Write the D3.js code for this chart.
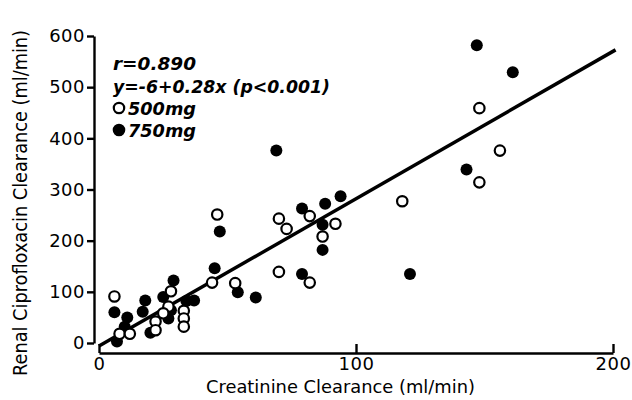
<!DOCTYPE html>
<html lang="en">
<head>
    <meta charset="UTF-8">
    <title>Renal ciprofloxacin clearance</title>
    <script src="https://cdn.jsdelivr.net/npm/d3@7/dist/d3.min.js"></script>
</head>
<body style="margin:0; background:#fff;">
<script>
    // creatinine clearance (x) and renal ciprofloxacin clearance (y), ml/min
    const dose500X = [6, 8, 12, 22, 22, 27, 28, 33, 33, 33, 44, 46, 53, 70, 70, 73, 82, 82, 87, 92, 118, 148, 156, 148, 25];
    const dose500Y = [91, 18, 18, 42, 25, 71, 101, 63, 48, 32, 118, 251, 117, 139, 243, 223, 248, 118, 208, 233, 277, 459, 376, 314, 58];
    const dose750X = [6, 7, 10, 11, 18, 17, 20, 25, 27, 29, 28, 34, 37, 45, 47, 54, 61, 69, 79, 79, 87, 87, 88, 94, 121, 143, 147, 161];
    const dose750Y = [60, 3, 32, 50, 83, 61, 20, 90, 48, 122, 64, 82, 83, 146, 218, 99, 89, 376, 263, 135, 182, 231, 272, 287, 135, 339, 582, 529];
    const xTicks = [0, 100, 200];
    const yTicks = [0, 100, 200, 300, 400, 500, 600];
    const fitIntercept = -6;
    const fitSlope = 2.88;
    const legendLines = ["r=0.890", "y=-6+0.28x (p<0.001)"];
    const legendDoses = ["500mg", "750mg"];

    const width = 632, height = 400;
    const font = "'DejaVu Sans', sans-serif";
    const x = d3.scaleLinear().domain([0, 200]).range([99, 613]);
    const y = d3.scaleLinear().domain([0, 600]).range([343, 36]);

    const svg = d3.select("body").append("svg")
        .attr("width", width)
        .attr("height", height)
        .style("display", "block");

    // y axis
    const yAxis = svg.append("g")
        .attr("transform", `translate(${x(0) - 5}, 0)`)
        .call(d3.axisLeft(y).tickValues(yTicks).tickSize(7).tickSizeOuter(0).tickPadding(2));
    yAxis.selectAll("path, line").attr("stroke", "#000").attr("stroke-width", 2.4);
    yAxis.selectAll("text").style("font-family", font).style("font-size", "18px")
        .style("letter-spacing", "0.5px").attr("fill", "#000");

    // x axis, ticks pointing up
    const xAxis = svg.append("g")
        .attr("transform", "translate(0, 353)")
        .call(d3.axisBottom(x).tickValues(xTicks).tickSize(-9).tickSizeOuter(0).tickPadding(4));
    xAxis.selectAll("path, line").attr("stroke", "#000").attr("stroke-width", 2.4);
    xAxis.selectAll("text").style("font-family", font).style("font-size", "18px")
        .style("letter-spacing", "0.5px").attr("fill", "#000");

    svg.append("text")
        .attr("x", 206).attr("y", 393)
        .attr("textLength", 269).attr("lengthAdjust", "spacingAndGlyphs")
        .style("font-family", font).style("font-size", "18px")
        .text("Creatinine Clearance (ml/min)");

    svg.append("text")
        .attr("transform", "translate(27, 376) rotate(-90)")
        .attr("textLength", 346).attr("lengthAdjust", "spacingAndGlyphs")
        .style("font-family", font).style("font-size", "19px")
        .text("Renal Ciprofloxacin Clearance (ml/min)");

    // regression line
    svg.append("line")
        .attr("x1", x(0)).attr("y1", y(fitIntercept))
        .attr("x2", x(201)).attr("y2", y(fitIntercept + fitSlope * 201))
        .attr("stroke", "#000").attr("stroke-width", 3.5);

    const r = 6;
    svg.append("g").selectAll("circle")
        .data(d3.zip(dose750X, dose750Y))
        .join("circle")
        .attr("cx", d => x(d[0])).attr("cy", d => y(d[1]))
        .attr("r", r).attr("fill", "#000");

    svg.append("g").selectAll("circle")
        .data(d3.zip(dose500X, dose500Y))
        .join("circle")
        .attr("cx", d => x(d[0])).attr("cy", d => y(d[1]))
        .attr("r", r - 0.8).attr("fill", "#fff")
        .attr("stroke", "#000").attr("stroke-width", 2.2);

    // legend block
    const legend = svg.append("g")
        .style("font-family", font).style("font-size", "17px")
        .style("font-style", "italic").style("font-weight", "bold");
    const statWidths = [83, 217];
    legend.selectAll("text.stat")
        .data(legendLines)
        .join("text")
        .attr("class", "stat")
        .attr("x", 113).attr("y", (d, i) => 70 + i * 23)
        .attr("textLength", (d, i) => statWidths[i]).attr("lengthAdjust", "spacingAndGlyphs")
        .text(d => d);
    legendDoses.forEach((d, i) => {
        const cy = 108 + i * 22;
        legend.append("circle")
            .attr("cx", 119).attr("cy", cy).attr("r", r - 0.8)
            .attr("fill", i === 0 ? "#fff" : "#000")
            .attr("stroke", "#000").attr("stroke-width", 2.2);
        legend.append("text")
            .attr("x", 128).attr("y", cy + 7)
            .attr("textLength", 68).attr("lengthAdjust", "spacingAndGlyphs")
            .text(d);
    });
</script>
</body>
</html>
